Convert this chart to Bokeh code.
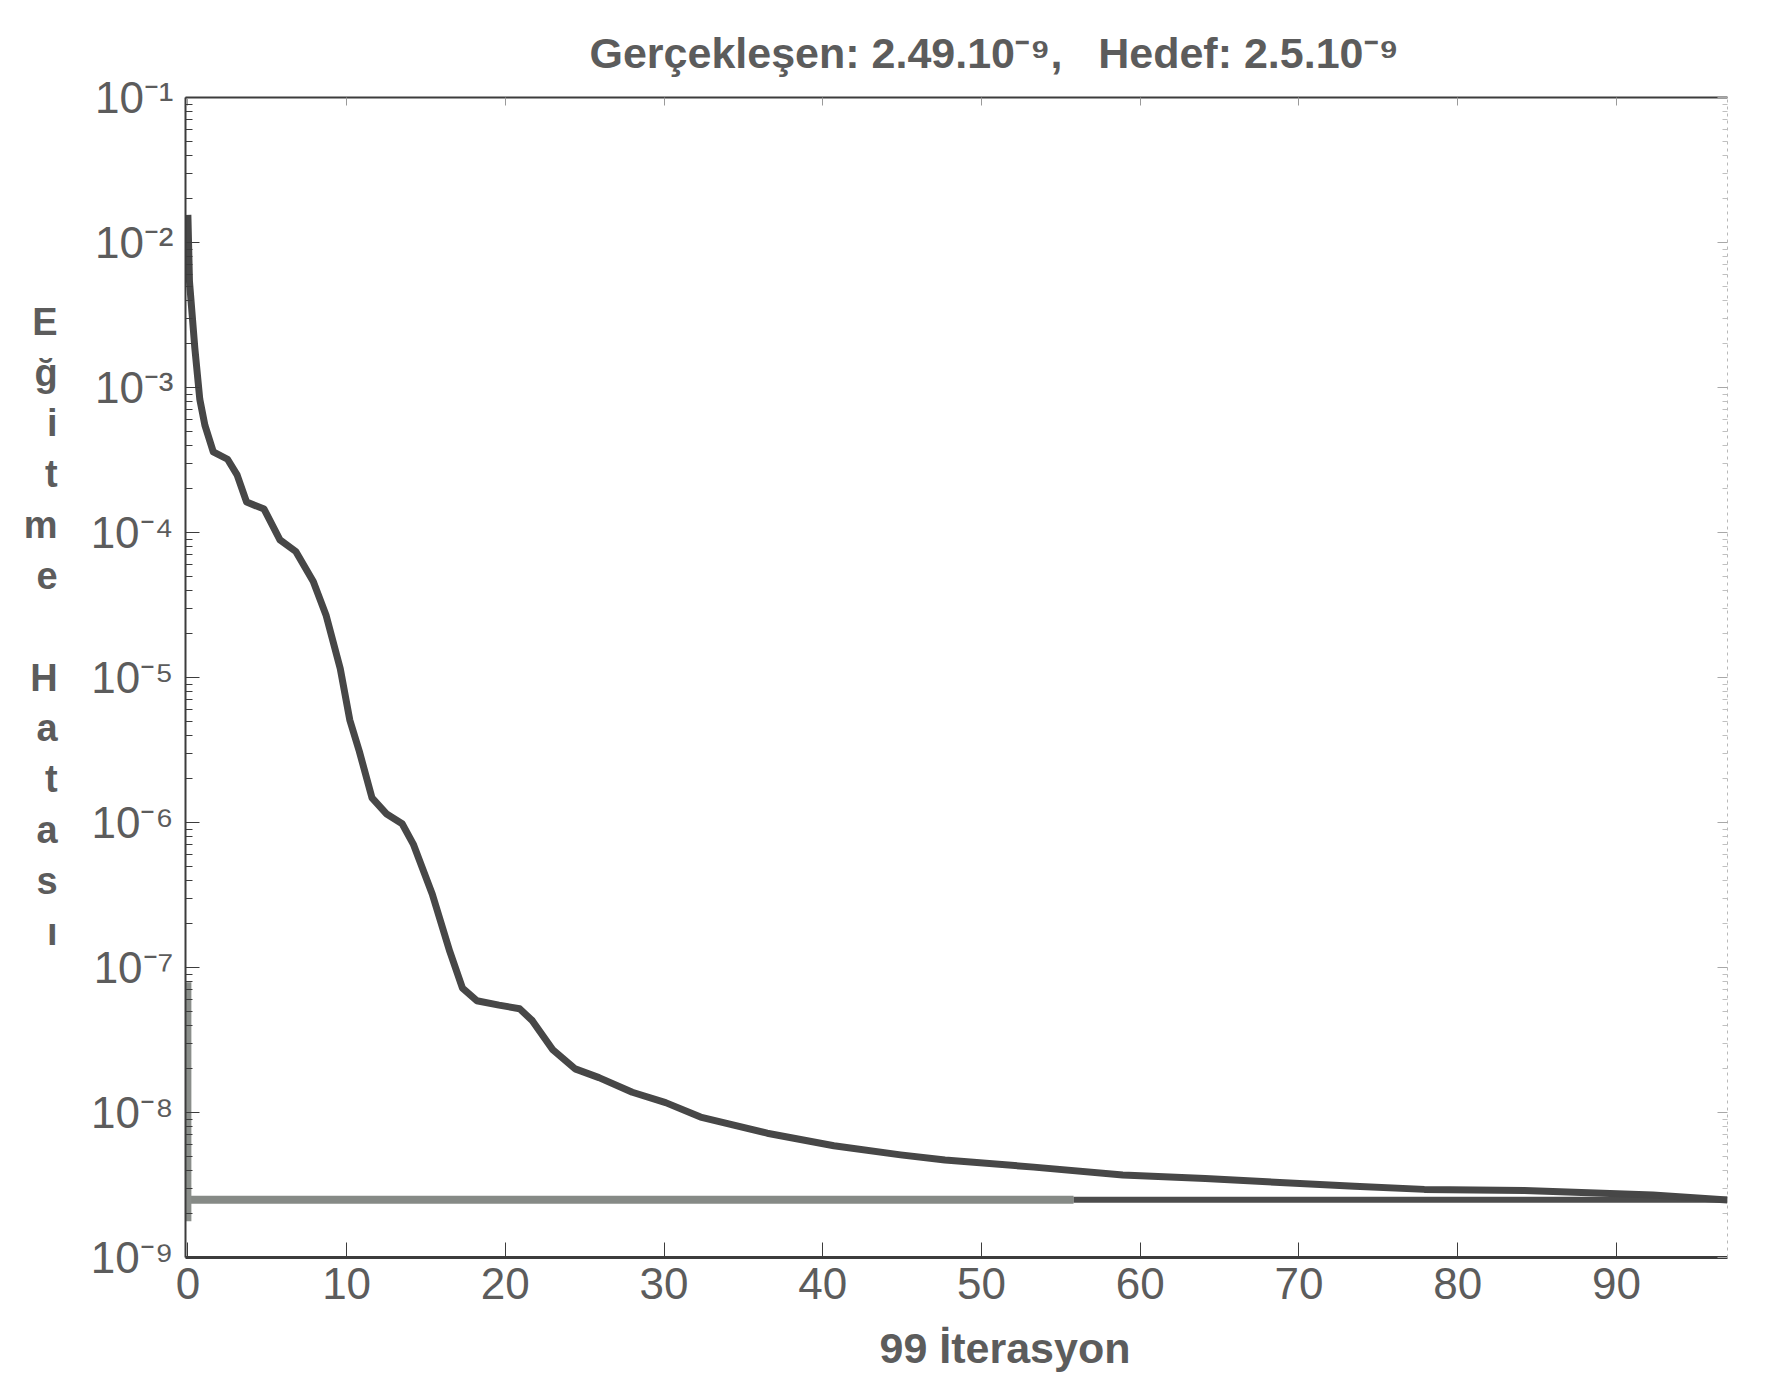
from bokeh.plotting import figure
from bokeh.models import Range1d, LinearAxis, LogAxis, FixedTicker, CustomJSTickFormatter, Title
from bokeh.embed import file_html
from bokeh.resources import INLINE

# ---------------- data ----------------
epochs = [0.0, 0.1, 0.44, 0.75, 1.07, 1.6, 2.5, 3.1, 3.7, 4.8, 5.8, 6.8, 7.9, 8.7,
          9.6, 10.2, 10.8, 11.6, 12.5, 13.5, 14.2, 15.4, 16.5, 17.3, 18.2, 19.6,
          20.9, 21.7, 23.0, 24.4, 25.9, 28.0, 30.1, 32.3, 36.5, 40.7, 44.9, 47.7,
          53.3, 58.9, 64.1, 73.5, 77.9, 84.2, 92.3, 97.0]
errors = [1.55e-2, 5.4e-3, 1.86e-3, 8.3e-4, 5.5e-4, 3.6e-4, 3.2e-4, 2.5e-4, 1.62e-4,
          1.45e-4, 8.9e-5, 7.4e-5, 4.6e-5, 2.7e-5, 1.15e-5, 5.1e-6, 3.1e-6, 1.48e-6,
          1.15e-6, 9.8e-7, 7.1e-7, 3.2e-7, 1.29e-7, 7.2e-8, 5.9e-8, 5.5e-8, 5.2e-8,
          4.3e-8, 2.7e-8, 2.0e-8, 1.74e-8, 1.38e-8, 1.17e-8, 9.3e-9, 7.2e-9, 5.9e-9,
          5.1e-9, 4.7e-9, 4.2e-9, 3.7e-9, 3.5e-9, 3.1e-9, 2.95e-9, 2.9e-9, 2.7e-9,
          2.49e-9]
goal = 2.5e-9
goal_gray_end = 55.8
x_last = 97.0
left_mark_x = [0.0, 0.0]
left_mark_y = [7.9e-8, 1.78e-9]

x_ticks = [0, 10, 20, 30, 40, 50, 60, 70, 80, 90]
y_exponents = [-9, -8, -7, -6, -5, -4, -3, -2, -1]

title_text = "Gerçekleşen: 2.49.10⁻⁹,\u00a0\u00a0\u00a0Hedef: 2.5.10⁻⁹"
x_label = "99 İterasyon"
y_label_words = ["Eğitme", "Hatası"]

# ---------------- figure ----------------
FONT = "Liberation Sans"
TXT = "#5c5c5c"
AX = "#3c3c3c"

p = figure(frame_width=1542, frame_height=1160,
           x_range=Range1d(-0.15, 97.0), y_range=Range1d(1e-9, 1e-1),
           y_axis_type="log", output_backend="svg", toolbar_location=None,
           min_border_left=185, min_border_top=97, min_border_right=26,
           min_border_bottom=40, background_fill_color="white",
           border_fill_color="white")
p.outline_line_color = None
p.grid.visible = False

major_y = [10.0 ** e for e in y_exponents]
minor_y = [k * 10.0 ** e for e in y_exponents[:-1] for k in range(2, 10)]

fmt = CustomJSTickFormatter(code="""
const sup = {"-":"\u207b","0":"\u2070","1":"\u00b9","2":"\u00b2","3":"\u00b3",
             "4":"\u2074","5":"\u2075","6":"\u2076","7":"\u2077","8":"\u2078","9":"\u2079"};
const e = Math.round(Math.log10(tick));
return "10" + String(e).split("").map(c => sup[c]).join("");
""")

ya = p.yaxis[0]
ya.ticker = FixedTicker(ticks=major_y, minor_ticks=minor_y)
ya.formatter = fmt
ya.major_label_text_font = FONT
ya.major_label_text_font_size = "44px"
ya.major_label_text_color = TXT
ya.major_label_standoff = 12
ya.major_tick_in = 14
ya.major_tick_out = 0
ya.minor_tick_in = 7
ya.minor_tick_out = 0
ya.axis_line_color = AX
ya.axis_line_width = 2
ya.major_tick_line_color = AX
ya.minor_tick_line_color = AX
ya.axis_label = "\n".join(list(y_label_words[0])) + "\n \n" + "\n".join(list(y_label_words[1])) + "\n \n "
ya.axis_label_orientation = "horizontal"
ya.axis_label_text_font = FONT
ya.axis_label_text_font_style = "bold"
ya.axis_label_text_font_size = "38px"
ya.axis_label_text_line_height = 1.21
ya.axis_label_text_color = TXT
ya.axis_label_text_align = "center"
ya.axis_label_standoff = 30

xa = p.xaxis[0]
xa.ticker = FixedTicker(ticks=x_ticks, minor_ticks=[])
xa.major_label_text_font = FONT
xa.major_label_text_font_size = "44px"
xa.major_label_text_color = TXT
xa.major_label_standoff = 10
xa.major_tick_in = 15
xa.major_tick_out = 0
xa.axis_line_color = AX
xa.axis_line_width = 3
xa.major_tick_line_color = AX

top = LinearAxis(ticker=FixedTicker(ticks=x_ticks, minor_ticks=[]),
                 major_label_text_font_size="1px", major_label_text_color=None,
                 major_label_standoff=0, major_tick_in=8, major_tick_out=0,
                 axis_line_color=AX, axis_line_width=2,
                 major_tick_line_color="#9a9a9a")
p.add_layout(top, "above")

right = LogAxis(ticker=FixedTicker(ticks=major_y, minor_ticks=minor_y),
                major_label_text_font_size="1px", major_label_text_color=None,
                major_label_standoff=0, major_tick_in=10, major_tick_out=0,
                minor_tick_in=5, minor_tick_out=0,
                axis_line_color="#b8b8b8", axis_line_dash="3 4", axis_line_width=1,
                major_tick_line_color="#a8a8a8", minor_tick_line_color="#c0c0c0")
p.add_layout(right, "right")

# goal line: gray part, then dark part
p.line([0, goal_gray_end], [goal, goal], line_color="#868a86", line_width=8)
p.line([goal_gray_end, x_last], [goal, goal], line_color="#4c4c4c", line_width=6)
# gray vertical mark at the left edge
p.line(left_mark_x, left_mark_y, line_color="#8a8e8a", line_width=7)
# training error curve
p.line(epochs, errors, line_color="#474747", line_width=7, line_join="round")

# title and x label
p.title.text = title_text
p.title.text_font = FONT
p.title.text_font_size = "43px"
p.title.text_font_style = "bold"
p.title.text_color = TXT
p.title.align = "left"
p.title.offset = 404
p.title.standoff = 41

xl = Title(text=x_label, align="left", offset=694, text_font=FONT,
           text_font_size="43px", text_font_style="bold", text_color=TXT,
           standoff=41)
p.add_layout(xl, "below")

open("out.html", "w").write(file_html(p, INLINE))
